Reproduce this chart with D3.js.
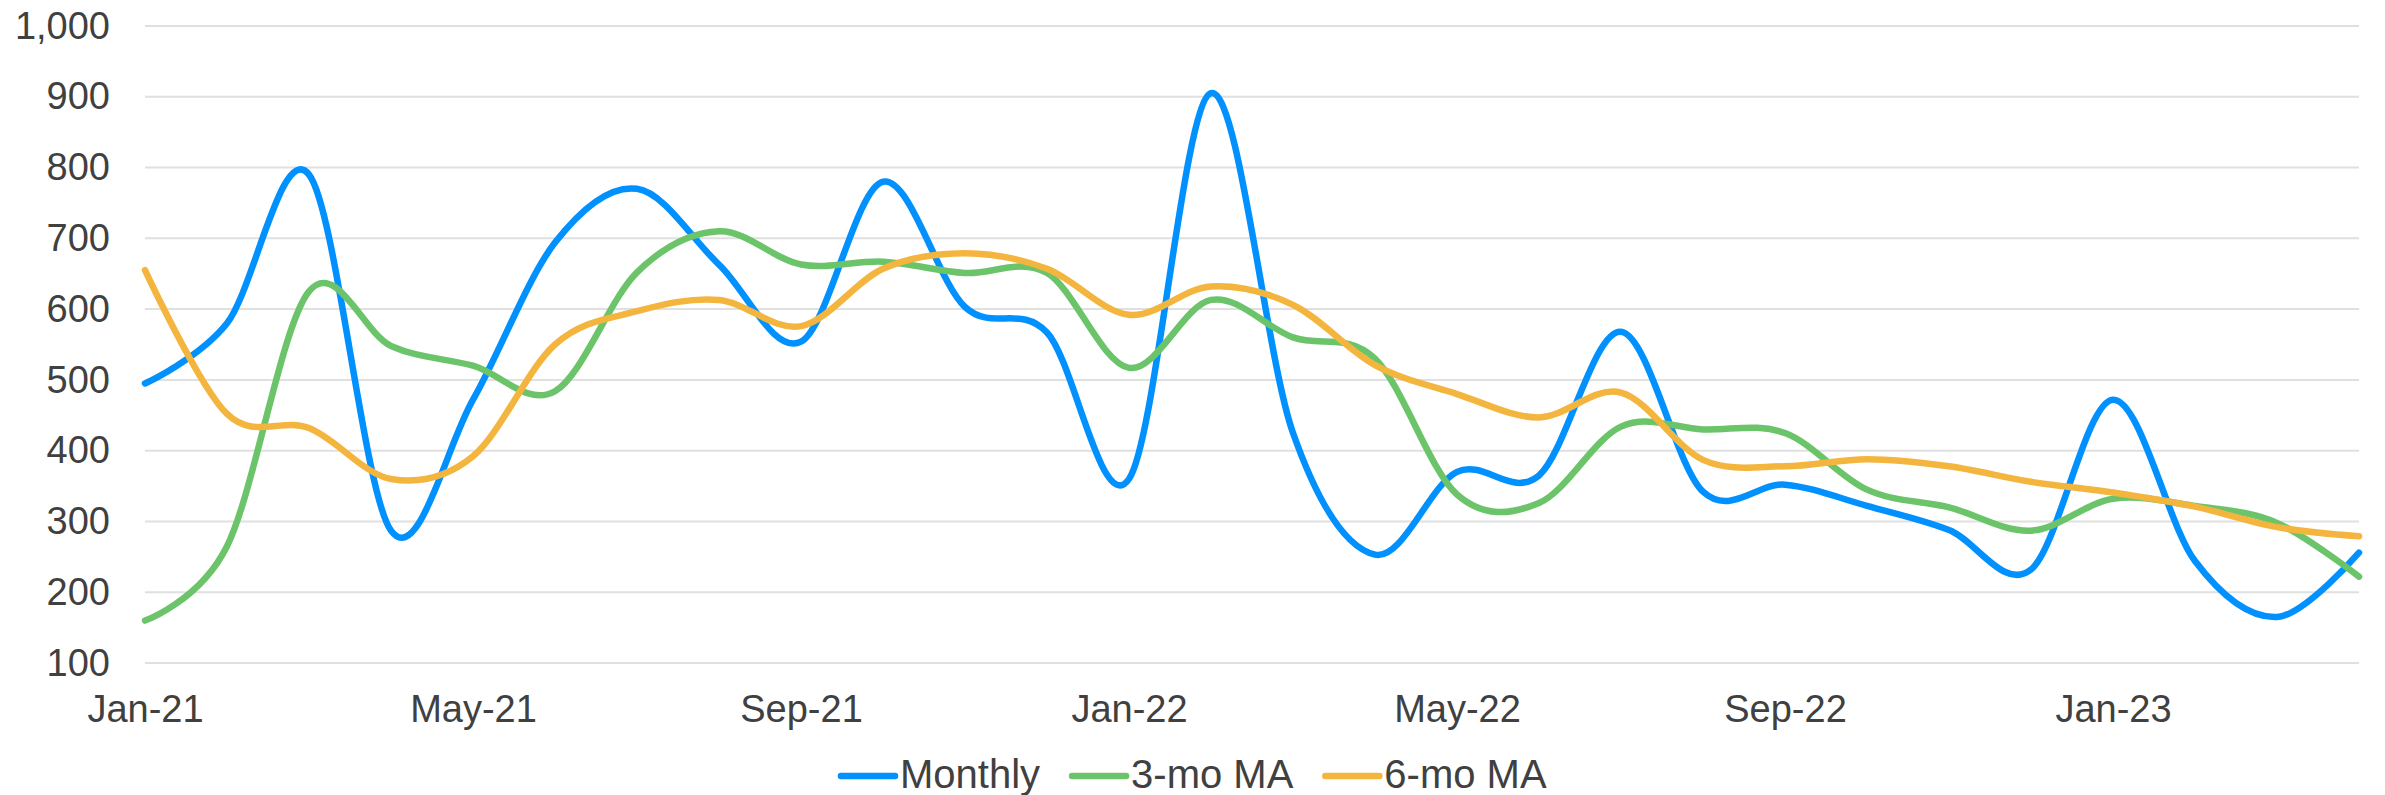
<!DOCTYPE html>
<html>
<head>
<meta charset="utf-8">
<script src="https://cdn.jsdelivr.net/npm/d3@7"></script>
<style>
  html, body { margin: 0; padding: 0; background: #fff; }
  text { font-family: "Liberation Sans", Arial, sans-serif; fill: #404040; }
</style>
</head>
<body>
<div id="chart"></div>
<script>
const months = ["Jan-21","Feb-21","Mar-21","Apr-21","May-21","Jun-21","Jul-21","Aug-21","Sep-21","Oct-21","Nov-21","Dec-21",
  "Jan-22","Feb-22","Mar-22","Apr-22","May-22","Jun-22","Jul-22","Aug-22","Sep-22","Oct-22","Nov-22","Dec-22",
  "Jan-23","Feb-23","Mar-23","Apr-23"];
const monthly = [495, 580, 790, 287, 472, 694, 770, 663, 554, 780, 603, 567,
  360, 905, 425, 253, 370, 365, 568, 342, 352, 322, 288, 232, 472, 244, 165, 256];
const ma3 = [160, 265, 625, 548, 520, 484, 652, 710, 663, 667, 651, 651,
  517, 613, 560, 530, 338, 326, 434, 430, 425, 345, 320, 287, 332, 322, 298, 222];
const ma6 = [655, 452, 432, 360, 392, 550, 597, 613, 576, 657, 679, 657,
  592, 632, 606, 521, 480, 447, 482, 387, 378, 388, 378, 356, 341, 321, 292, 279];
const yTicks = [100, 200, 300, 400, 500, 600, 700, 800, 900, 1000];
const xTickLabels = ["Jan-21","May-21","Sep-21","Jan-22","May-22","Sep-22","Jan-23"];

const series = [
  { name: "Monthly", values: monthly, color: "#0091ff" },
  { name: "3-mo MA", values: ma3, color: "#6cc46a" },
  { name: "6-mo MA", values: ma6, color: "#f4b53f" },
];

const width = 2385;
const height = 795;
const margin = { top: 26, right: 26, bottom: 132, left: 145 };

const svg = d3.select("#chart")
  .append("svg")
  .attr("width", width)
  .attr("height", height);

const x = d3.scalePoint()
  .domain(months)
  .range([margin.left, width - margin.right]);

const y = d3.scaleLinear()
  .domain([100, 1000])
  .range([height - margin.bottom, margin.top]);

// gridlines
svg.append("g")
  .selectAll("line")
  .data(yTicks)
  .join("line")
  .attr("x1", margin.left)
  .attr("x2", width - margin.right)
  .attr("y1", d => y(d))
  .attr("y2", d => y(d))
  .attr("stroke", "#e0e0e0")
  .attr("stroke-width", 2);

const yAxis = d3.axisLeft(y)
  .tickValues(yTicks)
  .tickFormat(d3.format(","))
  .tickSize(0)
  .tickPadding(35);

svg.append("g")
  .attr("transform", `translate(${margin.left},0)`)
  .call(yAxis)
  .call(g => g.select(".domain").remove())
  .selectAll("text")
  .attr("font-size", 38)
  .attr("font-family", null)
  .attr("fill", "#404040");

const xAxis = d3.axisBottom(x)
  .tickValues(xTickLabels)
  .tickSize(0)
  .tickPadding(32);

svg.append("g")
  .attr("transform", `translate(0,${height - margin.bottom})`)
  .call(xAxis)
  .call(g => g.select(".domain").remove())
  .selectAll("text")
  .attr("font-size", 38)
  .attr("font-family", null)
  .attr("fill", "#404040");

const line = d3.line()
  .x((d, i) => x(months[i]))
  .y(d => y(d))
  .curve(d3.curveCatmullRom.alpha(0));

svg.append("g")
  .selectAll("path")
  .data(series)
  .join("path")
  .attr("d", d => line(d.values))
  .attr("fill", "none")
  .attr("stroke", d => d.color)
  .attr("stroke-width", 6.5)
  .attr("stroke-linejoin", "round")
  .attr("stroke-linecap", "round");

// legend
const legend = svg.append("g").attr("transform", "translate(838,776)");
let lx = 0;
series.forEach(function (s, i) {
  const g = legend.append("g").attr("transform", `translate(${lx},0)`);
  g.append("line")
    .attr("x1", 3).attr("x2", 57)
    .attr("y1", 0).attr("y2", 0)
    .attr("stroke", s.color)
    .attr("stroke-width", 6.5)
    .attr("stroke-linecap", "round");
  const t = g.append("text")
    .attr("x", 62)
    .attr("y", 12)
    .attr("font-size", 40)
    .text(s.name);
  lx += 62 + t.node().getComputedTextLength() + 29;
});
</script>
</body>
</html>
